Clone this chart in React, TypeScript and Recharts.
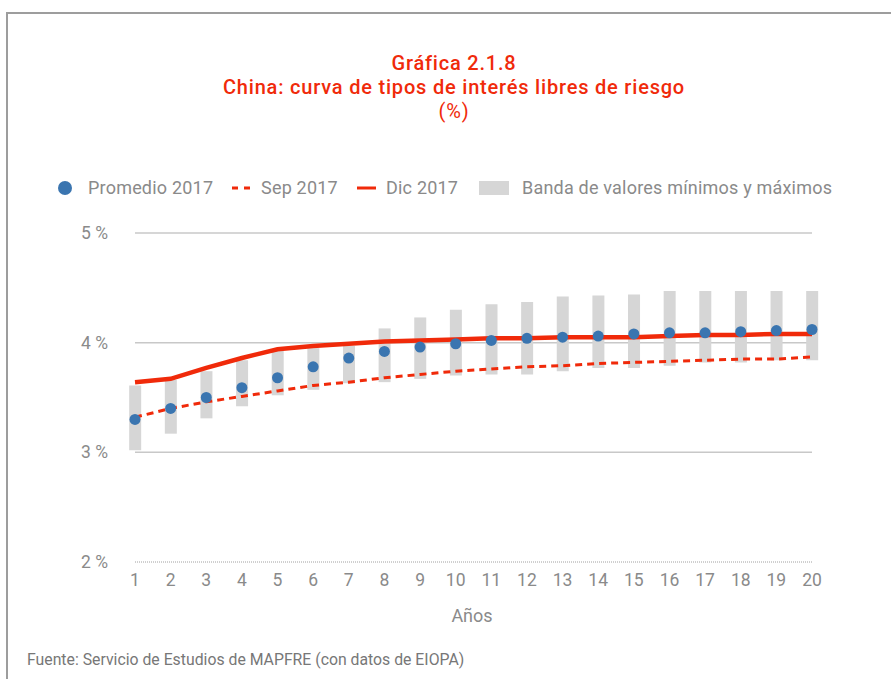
import { ComposedChart, Bar, Line, XAxis, YAxis, CartesianGrid } from "recharts";

const years = [1, 2, 3, 4, 5, 6, 7, 8, 9, 10, 11, 12, 13, 14, 15, 16, 17, 18, 19, 20];
const promedio2017 = [3.3, 3.4, 3.5, 3.59, 3.68, 3.78, 3.86, 3.92, 3.96, 3.99, 4.02, 4.04, 4.05, 4.06, 4.08, 4.09, 4.09, 4.1, 4.11, 4.12];
const sep2017 = [3.32, 3.4, 3.46, 3.51, 3.56, 3.61, 3.64, 3.68, 3.71, 3.74, 3.76, 3.78, 3.79, 3.81, 3.82, 3.83, 3.84, 3.85, 3.85, 3.87];
const dic2017 = [3.64, 3.67, 3.77, 3.86, 3.94, 3.97, 3.99, 4.01, 4.02, 4.03, 4.04, 4.04, 4.05, 4.05, 4.05, 4.06, 4.07, 4.07, 4.08, 4.08];
const bandaMin = [3.02, 3.17, 3.31, 3.42, 3.52, 3.57, 3.63, 3.64, 3.67, 3.7, 3.71, 3.71, 3.74, 3.77, 3.77, 3.79, 3.82, 3.82, 3.84, 3.84];
const bandaMax = [3.61, 3.66, 3.74, 3.84, 3.93, 3.95, 3.97, 4.13, 4.23, 4.3, 4.35, 4.37, 4.42, 4.43, 4.44, 4.47, 4.47, 4.47, 4.47, 4.47];
const yTicks = [2, 3, 4, 5];

const RED = "#f02a0a";
const BLUE = "#3a75b0";
const BAND = "#d6d6d6";
const TXT = "#8a8a8a";
const FONT = "Roboto, 'Noto Sans', sans-serif";

const data = years.map((y, i) => ({
  year: y,
  promedio: promedio2017[i],
  sep: sep2017[i],
  dic: dic2017[i],
  banda: [bandaMin[i], bandaMax[i]],
}));

const XTick = (props: any) => {
  const { x, y, payload } = props;
  return (
    <text x={x} y={y + 10} textAnchor="middle" dominantBaseline="central" fill={TXT} fontSize={17.5} fontFamily={FONT}>
      {payload.value}
    </text>
  );
};

const YTick = (props: any) => {
  const { y, payload } = props;
  return (
    <text x={108} y={y} textAnchor="end" dominantBaseline="central" fill={TXT} fontSize={17.5} fontFamily={FONT}>
      {payload.value} %
    </text>
  );
};

function LegendRow() {
  const label = { position: "absolute", top: 0, color: TXT, fontSize: 18, letterSpacing: 0.2, fontFamily: FONT, lineHeight: "24px", whiteSpace: "nowrap" } as const;
  return (
    <div style={{ position: "absolute", left: 0, top: 176, width: 891, height: 24 }}>
      <svg style={{ position: "absolute", left: 0, top: 0 }} width={891} height={24}>
        <circle cx={65} cy={12} r={7} fill={BLUE} />
        <line x1={232} y1={12} x2={251} y2={12} stroke={RED} strokeWidth={3} strokeDasharray="6 6" />
        <line x1={357} y1={12} x2={376} y2={12} stroke={RED} strokeWidth={3} />
        <rect x={479} y={5} width={30} height={14} fill={BAND} />
      </svg>
      <span style={{ ...label, left: 88 }}>Promedio 2017</span>
      <span style={{ ...label, left: 261 }}>Sep 2017</span>
      <span style={{ ...label, left: 386 }}>Dic 2017</span>
      <span style={{ ...label, left: 522 }}>Banda de valores mínimos y máximos</span>
    </div>
  );
}

export default function App() {
  return (
    <div style={{ position: "relative", width: 891, height: 679, background: "#fff", overflow: "hidden" }}>
      <style>{"body{margin:0}"}</style>
      <div style={{ position: "absolute", left: 6, top: 12, width: 900, height: 0, borderTop: "2px solid #9d9d9d" }} />
      <div style={{ position: "absolute", left: 6, top: 12, width: 0, height: 700, borderLeft: "2px solid #9d9d9d" }} />
      <div style={{ position: "absolute", left: 0, top: 51, width: 908, textAlign: "center", color: RED, fontFamily: FONT, fontSize: 20, letterSpacing: 0.8, lineHeight: "24px", fontWeight: 500 }}>
        <div>Gráfica 2.1.8</div>
        <div>China: curva de tipos de interés libres de riesgo</div>
        <div style={{ fontWeight: 400 }}>(%)</div>
      </div>
      <LegendRow />
      <div style={{ position: "absolute", left: 0, top: 0 }}>
        <ComposedChart width={891} height={679} data={data} margin={{ top: 233, right: 79, bottom: 0, left: 0 }}>
          <CartesianGrid horizontal vertical={false} horizontalValues={[3, 4, 5]} stroke="#c8c8c8" strokeWidth={1.5} />
          <XAxis
            type="number"
            dataKey="year"
            domain={[1, 20]}
            ticks={years}
            interval={0}
            axisLine={{ stroke: "#a0a0a0", strokeDasharray: "1 1" }}
            tickLine={false}
            tick={<XTick />}
            height={117}
          />
          <YAxis type="number" domain={[2, 5]} ticks={yTicks} axisLine={false} tickLine={false} tick={<YTick />} width={135} />
          <Bar dataKey="banda" fill={BAND} barSize={12} isAnimationActive={false} />
          <Line type="linear" dataKey="sep" stroke={RED} strokeWidth={3} strokeDasharray="7 5" dot={false} isAnimationActive={false} />
          <Line type="linear" dataKey="dic" stroke={RED} strokeWidth={4.5} dot={false} isAnimationActive={false} />
          <Line type="linear" dataKey="promedio" stroke="none" dot={{ r: 5.5, fill: BLUE, stroke: "none" }} isAnimationActive={false} />
        </ComposedChart>
      </div>
      <div style={{ position: "absolute", left: 0, top: 605, width: 944, textAlign: "center", color: TXT, fontFamily: FONT, fontSize: 18 }}>Años</div>
      <div style={{ position: "absolute", left: 27, top: 650, color: "#777", fontFamily: FONT, fontSize: 15.8 }}>
        Fuente: Servicio de Estudios de MAPFRE (con datos de EIOPA)
      </div>
    </div>
  );
}
